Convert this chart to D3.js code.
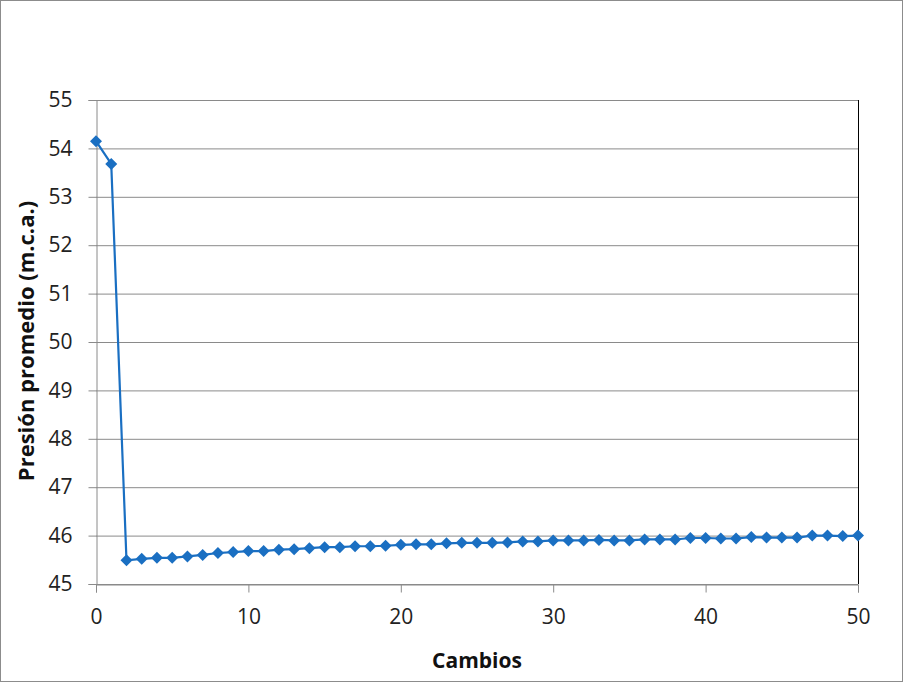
<!DOCTYPE html>
<html><head><meta charset="utf-8">
<script src="https://cdn.jsdelivr.net/npm/d3@7"></script>
<style>body{margin:0;background:#fff}</style>
</head><body>
<script>
const cambios = d3.range(0, 51);
const presion = [54.15, 53.68, 45.49, 45.52, 45.54, 45.54, 45.57, 45.60, 45.64, 45.66,
  45.68, 45.68, 45.71, 45.72, 45.74, 45.76, 45.76, 45.78, 45.78, 45.79,
  45.81, 45.82, 45.82, 45.84, 45.85, 45.85, 45.85, 45.86, 45.88, 45.88,
  45.90, 45.90, 45.90, 45.91, 45.90, 45.90, 45.92, 45.92, 45.92, 45.95,
  45.95, 45.94, 45.94, 45.97, 45.96, 45.96, 45.96, 46.00, 46.00, 45.99, 46.00];
const yTicks = [45, 46, 47, 48, 49, 50, 51, 52, 53, 54, 55];
const xTicks = [0, 10, 20, 30, 40, 50];
const xLabel = "Cambios";
const yLabel = "Presión promedio (m.c.a.)";

const W = 904, H = 683;
const m = {left: 96, right: 858, top: 100, bottom: 584};
const color = "#1a6fc2";
const font = "'Open Sans', Lato, sans-serif";

const svg = d3.select("body").append("svg").attr("width", W).attr("height", H);
svg.append("rect").attr("x", 0.5).attr("y", 0.5).attr("width", W - 2).attr("height", H - 2)
  .attr("fill", "#fff").attr("stroke", "#8c8c8c");

const x = d3.scaleLinear().domain([0, 50]).range([m.left, m.right]);
const y = d3.scaleLinear().domain([45, 55]).range([m.bottom, m.top]);

// gridlines
svg.append("g").selectAll("line").data(yTicks).join("line")
  .attr("x1", m.left).attr("x2", m.right)
  .attr("y1", d => y(d) + 0.5).attr("y2", d => y(d) + 0.5)
  .attr("stroke", "#8a8a8a").attr("stroke-width", 1);

// right border
svg.append("line").attr("x1", m.right + 0.5).attr("x2", m.right + 0.5)
  .attr("y1", m.top).attr("y2", m.bottom).attr("stroke", "#000");

// y axis
const ya = svg.append("g").attr("transform", `translate(${m.left + 0.5},0)`)
  .call(d3.axisLeft(y).tickValues(yTicks).tickSize(8).tickPadding(16).tickFormat(d3.format("d")));
ya.select(".domain").attr("stroke", "#8a8a8a");
ya.selectAll(".tick line").attr("stroke", "#8a8a8a");
ya.selectAll("text").attr("font-family", font).attr("font-size", 21).attr("fill", "#222");

// x axis
const xa = svg.append("g").attr("transform", `translate(0,${m.bottom + 0.5})`)
  .call(d3.axisBottom(x).tickValues(xTicks).tickSize(8).tickPadding(17).tickFormat(d3.format("d")));
xa.select(".domain").attr("stroke", "#8a8a8a");
xa.selectAll(".tick line").attr("stroke", "#8a8a8a");
xa.selectAll("text").attr("font-family", font).attr("font-size", 21).attr("fill", "#222");

// line
const data = cambios.map((c, i) => ({c, p: presion[i]}));
svg.append("path").datum(data)
  .attr("fill", "none").attr("stroke", color).attr("stroke-width", 2.2)
  .attr("d", d3.line().x(d => x(d.c)).y(d => y(d.p)));

// markers
svg.append("g").selectAll("path").data(data).join("path")
  .attr("transform", d => `translate(${x(d.c)},${y(d.p)})`)
  .attr("d", "M0,-6L6,0L0,6L-6,0Z")
  .attr("fill", color);

// labels
svg.append("text").attr("x", 477).attr("y", 668)
  .attr("text-anchor", "middle").attr("font-family", font).attr("font-weight", "bold")
  .attr("font-size", 21).attr("fill", "#111").text(xLabel);
svg.append("text").attr("transform", `translate(34,341) rotate(-90)`)
  .attr("text-anchor", "middle").attr("font-family", font).attr("font-weight", "bold")
  .attr("font-size", 22).attr("fill", "#111").text(yLabel);
</script>
</body></html>
